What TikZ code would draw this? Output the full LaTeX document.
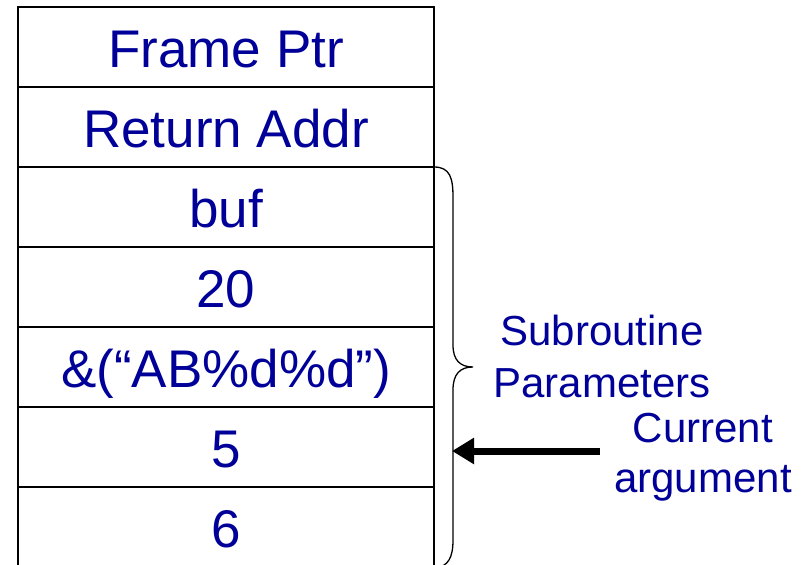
\documentclass[tikz,border=0pt]{standalone}
\usepackage{fontspec}
\setmainfont{Liberation Sans}
\usetikzlibrary{arrows.meta}
\definecolor{txtblue}{RGB}{0,0,153}
\begin{document}
\begin{tikzpicture}[x=1pt,y=-1pt,
  cell/.style={draw=black, line width=2pt, rectangle, minimum width=416pt, minimum height=80pt,
    inner sep=0pt, text height=40pt, text depth=0pt, text=txtblue,
    font=\fontsize{53}{60}\selectfont},
  lbl/.style={text=txtblue, align=center, inner sep=0pt, anchor=base},
  bracestyle/.style={draw=black, line width=1.3pt},
  arrowstyle/.style={draw=black, line width=7pt, -{Triangle[length=22pt,width=25pt]}}]
\useasboundingbox (0,0) rectangle (809,565);
\clip (0,0) rectangle (809,565);
\node[cell] (r1) at (226,47) {Frame Ptr};
\node[cell] (r2) at (226,127) {Return Addr};
\node[cell] (r3) at (226,207) {buf};
\node[cell] (r4) at (226,287) {20};
\node[cell] (r5) at (226,367) {\&(“AB\%d\%d”)};
\node[cell] (r6) at (226,447) {5};
\node[cell] (r7) at (226,527) {6};
% brace
\draw[bracestyle] (434,167) .. controls (450,167) and (453,178) .. (453,197)
  -- (453,345) .. controls (453,360) and (460,367) .. (473,367)
  .. controls (460,367) and (453,374) .. (453,390)
  -- (453,540) .. controls (453,558) and (448,566) .. (436,568);
\node[lbl, font=\fontsize{42}{52}\selectfont] (sub) at (602,397) {Subroutine\\Parameters};
\node[lbl, font=\fontsize{42}{50}\selectfont] (cur) at (703,492) {Current\\argument};
\coordinate (astart) at (600,451);
\coordinate (atip) at (452,451);
\draw[arrowstyle] (astart) -- (atip);
\end{tikzpicture}
\end{document}
